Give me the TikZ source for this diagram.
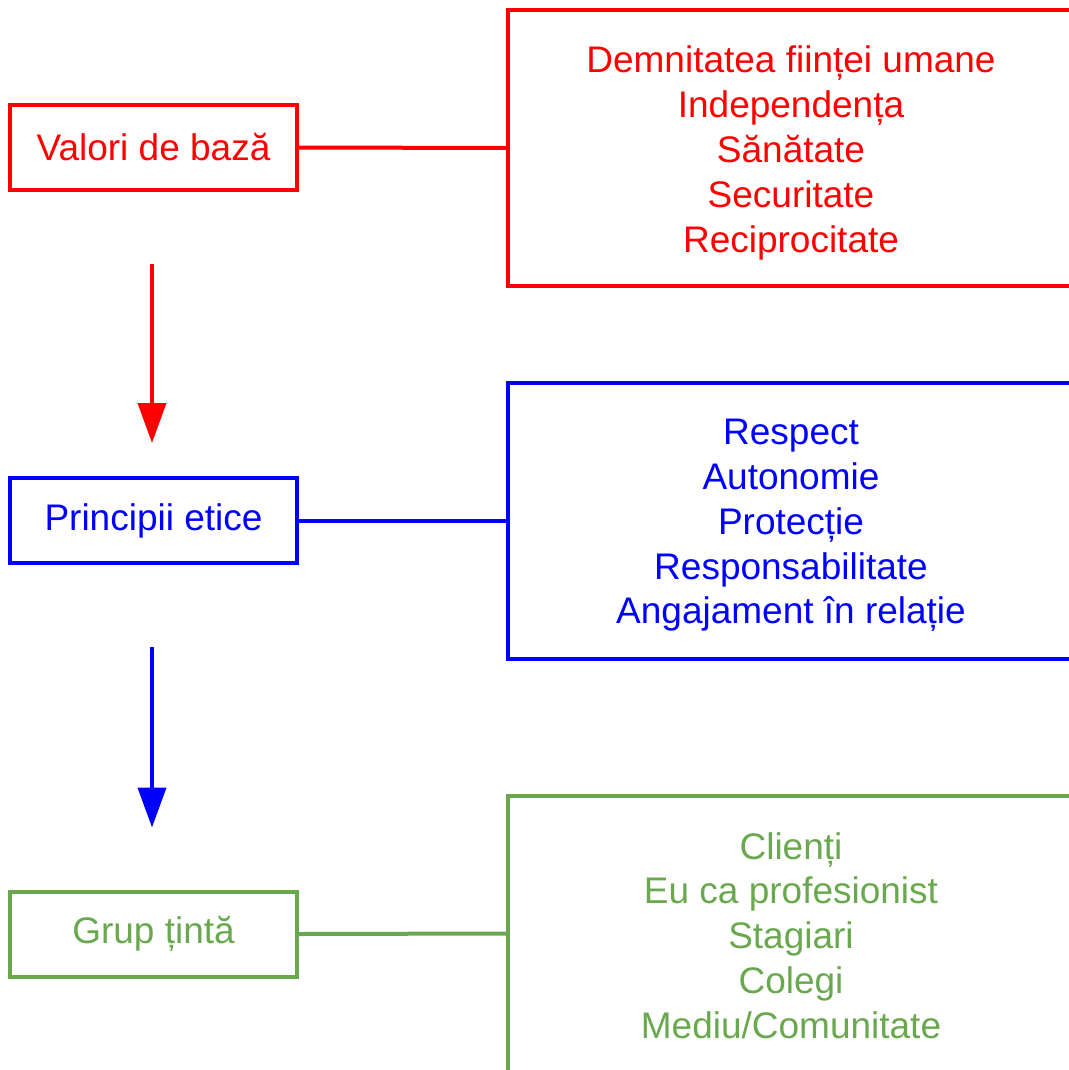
\documentclass[tikz,border=0pt]{standalone}
\usepackage{fontspec}
\setmainfont{Liberation Sans}
\usetikzlibrary{arrows.meta}
\definecolor{cred}{HTML}{FF0000}
\definecolor{cblue}{HTML}{0000FF}
\definecolor{cgreen}{HTML}{6AA84F}
\tikzset{
  leftbox/.style={draw, line width=4pt, minimum width=287pt, minimum height=85pt, inner sep=0pt,
    font=\fontsize{37}{44}\selectfont},
  rightbox/.style={draw, line width=4pt, minimum width=566pt, minimum height=276pt, inner sep=0pt},
  listtext/.style={align=center, inner sep=0pt, font=\fontsize{37}{44.8}\selectfont},
  link/.style={line width=4pt},
  flow/.style={line width=4pt, -{Triangle[width=28pt,length=40pt]}}
}
\begin{document}
\begin{tikzpicture}[x=1pt,y=1pt]
\useasboundingbox (0,0) rectangle (1068,-1070);
% red row
\node[leftbox, cred] (v) at (153.5,-147.5) {Valori de bază};
\node[rightbox, cred] (vl) at (791,-148) {};
\node[listtext, cred] (vlt) at ([yshift=-5pt]vl.center) {Demnitatea ființei umane\\Independența\\Sănătate\\Securitate\\Reciprocitate};
\draw[link, cred] (v.east) -- (vl.west);
% blue row
\node[leftbox, cblue] (p) at (153.5,-520.5) {Principii etice};
\node[rightbox, cblue] (pl) at (791,-520.5) {};
\node[listtext, cblue] (plt) at ([yshift=-5pt]pl.center) {Respect\\Autonomie\\Protecție\\Responsabilitate\\Angajament în relație};
\draw[link, cblue] (p.east) -- (pl.west);
% green row
\node[leftbox, cgreen] (g) at (153.5,-934) {Grup țintă};
\node[rightbox, cgreen] (gl) at (791,-933.5) {};
\node[listtext, cgreen] (glt) at ([yshift=-2pt]gl.center) {Clienți\\Eu ca profesionist\\Stagiari\\Colegi\\Mediu/Comunitate};
\draw[link, cgreen] (g.east) -- (gl.west);
% arrows
\draw[flow, cred] ([xshift=-1.5pt,yshift=-72pt]v.south) -- ([xshift=-1.5pt,yshift=33pt]p.north);
\draw[flow, cblue] ([xshift=-1.5pt,yshift=-82pt]p.south) -- ([xshift=-1.5pt,yshift=62pt]g.north);
\end{tikzpicture}
\end{document}
